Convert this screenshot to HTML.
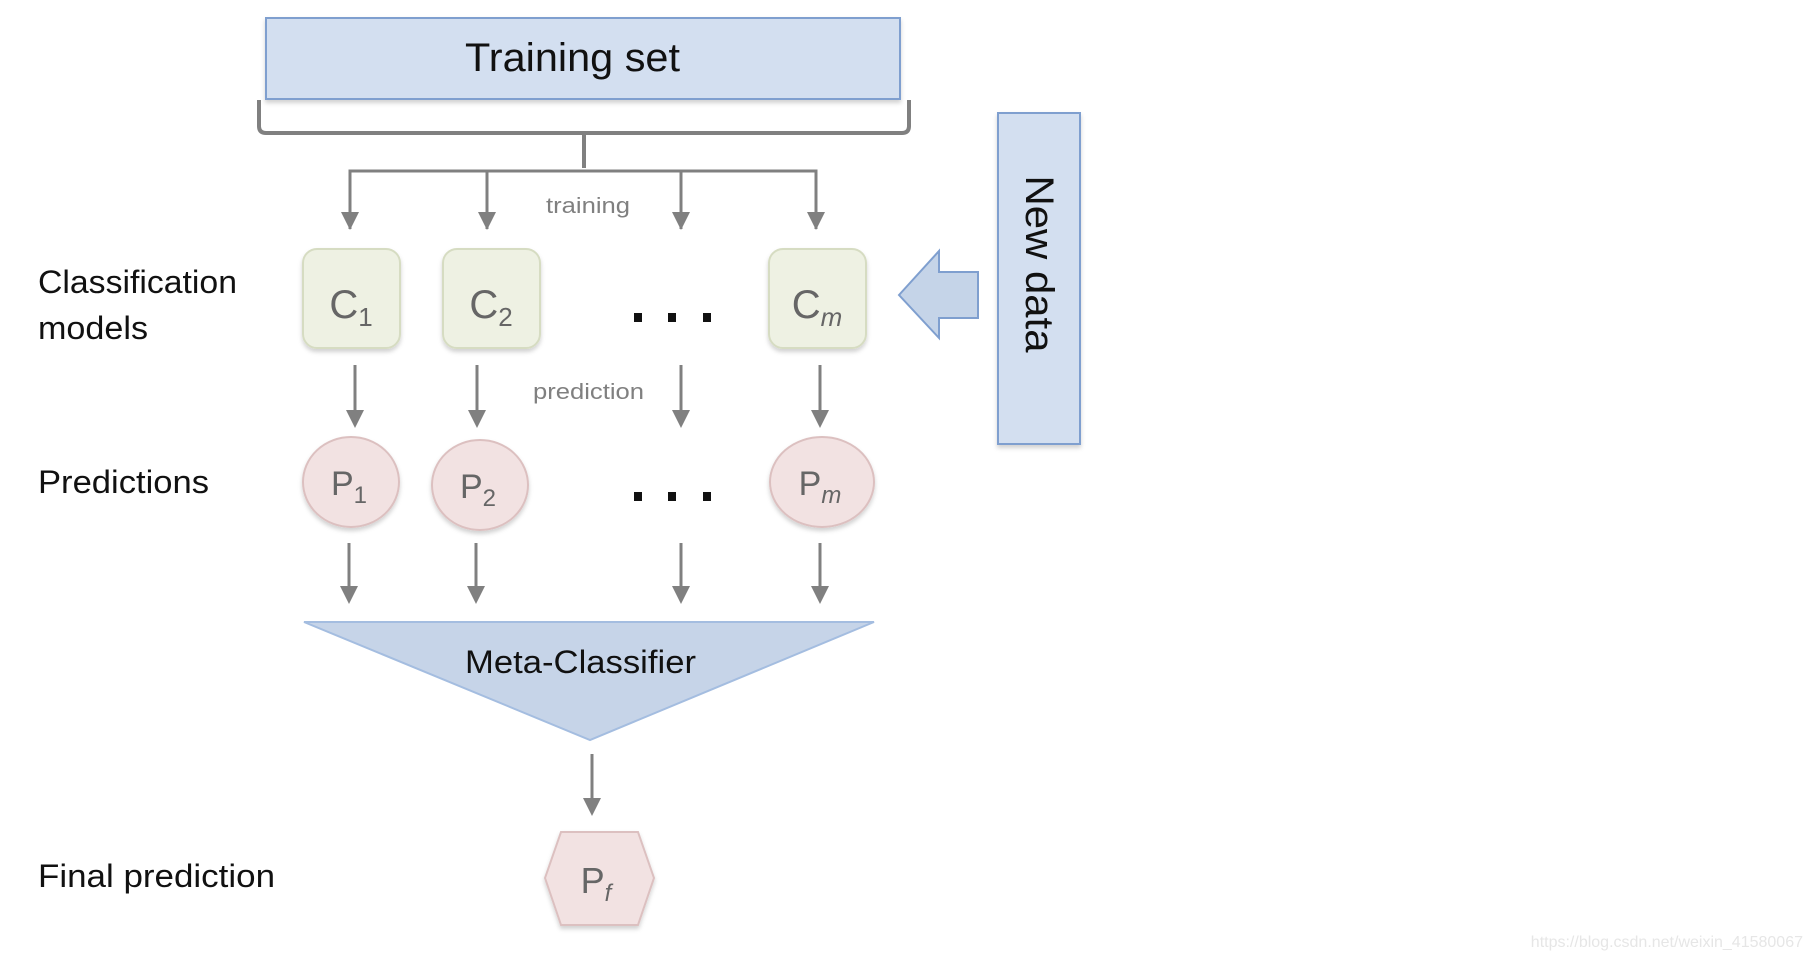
<!DOCTYPE html>
<html><head><meta charset="utf-8"><style>
html,body{margin:0;padding:0;background:#fff;width:1812px;height:960px;overflow:hidden}
svg{display:block}
text{font-family:"Liberation Sans",sans-serif}
</style></head><body>
<svg width="1812" height="960" viewBox="0 0 1812 960" xmlns="http://www.w3.org/2000/svg">
<defs>
<filter id="sh" x="-20%" y="-20%" width="140%" height="140%"><feDropShadow dx="0" dy="3" stdDeviation="2" flood-color="#000" flood-opacity="0.18"/></filter>
</defs>
<!-- Training set -->
<rect x="266" y="18" width="634" height="81" fill="#d3dff0" stroke="#7f9fcf" stroke-width="2" filter="url(#sh)"/>
<text x="465" y="71" font-size="40" textLength="215" lengthAdjust="spacingAndGlyphs" fill="#111">Training set</text>
<!-- brace -->
<path d="M259,100 V126 Q259,133 266,133 H902 Q909,133 909,126 V100 M584,133 V168" fill="none" stroke="#808080" stroke-width="4"/>
<path d="M350,229 V171 H816 V229 M487,171 V229 M681,171 V229" fill="none" stroke="#808080" stroke-width="3"/>
<g fill="#808080">
<path d="M341,212 h18 l-9,18 z"/><path d="M478,212 h18 l-9,18 z"/><path d="M672,212 h18 l-9,18 z"/><path d="M807,212 h18 l-9,18 z"/>
</g>
<text x="546" y="213" font-size="22" textLength="84" lengthAdjust="spacingAndGlyphs" fill="#808080">training</text>
<!-- C boxes -->
<g fill="#eef1e3" stroke="#d6dcc2" stroke-width="2" filter="url(#sh)">
<rect x="303" y="249" width="97" height="99" rx="14"/>
<rect x="443" y="249" width="97" height="99" rx="14"/>
<rect x="769" y="249" width="97" height="99" rx="14"/>
</g>
<g fill="#666" font-size="40" text-anchor="middle">
<text x="351" y="318">C<tspan font-size="26" dy="8">1</tspan></text>
<text x="491" y="318">C<tspan font-size="26" dy="8">2</tspan></text>
<text x="817" y="318">C<tspan font-size="26" dy="8" font-style="italic">m</tspan></text>
</g>
<g fill="#111"><rect x="634" y="313" width="8" height="9"/><rect x="668" y="313" width="8" height="9"/><rect x="703" y="313" width="8" height="9"/>
<rect x="634" y="492" width="8" height="9"/><rect x="668" y="492" width="8" height="9"/><rect x="703" y="492" width="8" height="9"/></g>
<!-- New data arrow -->
<path d="M899,295 L939,251 V272 H978 V318 H939 V338 Z" fill="#c5d4e8" stroke="#7f9fcf" stroke-width="2"/>
<rect x="998" y="113" width="82" height="331" fill="#d3dff0" stroke="#7f9fcf" stroke-width="2" filter="url(#sh)"/>
<text transform="translate(1026,264) rotate(90)" font-size="40" text-anchor="middle" textLength="177" lengthAdjust="spacingAndGlyphs" fill="#111">New data</text>
<!-- labels -->
<g font-size="32" fill="#111">
<text x="38" y="293" textLength="199" lengthAdjust="spacingAndGlyphs">Classification</text>
<text x="38" y="339" textLength="110" lengthAdjust="spacingAndGlyphs">models</text>
<text x="38" y="493" textLength="171" lengthAdjust="spacingAndGlyphs">Predictions</text>
<text x="38" y="887" textLength="237" lengthAdjust="spacingAndGlyphs">Final prediction</text>
</g>
<g stroke="#808080" stroke-width="3">
<line x1="355" y1="365" x2="355" y2="412"/><line x1="477" y1="365" x2="477" y2="412"/><line x1="681" y1="365" x2="681" y2="412"/><line x1="820" y1="365" x2="820" y2="412"/>
<line x1="349" y1="543" x2="349" y2="588"/><line x1="476" y1="543" x2="476" y2="588"/><line x1="681" y1="543" x2="681" y2="588"/><line x1="820" y1="543" x2="820" y2="588"/>
<line x1="592" y1="754" x2="592" y2="800"/>
</g>
<g fill="#808080">
<path d="M346,410 h18 l-9,18 z"/><path d="M468,410 h18 l-9,18 z"/><path d="M672,410 h18 l-9,18 z"/><path d="M811,410 h18 l-9,18 z"/>
<path d="M340,586 h18 l-9,18 z"/><path d="M467,586 h18 l-9,18 z"/><path d="M672,586 h18 l-9,18 z"/><path d="M811,586 h18 l-9,18 z"/>
<path d="M583,798 h18 l-9,18 z"/>
</g>
<text x="533" y="399" font-size="22" textLength="111" lengthAdjust="spacingAndGlyphs" fill="#808080">prediction</text>
<!-- P circles -->
<g fill="#f2e2e2" stroke="#dcc0c0" stroke-width="2" filter="url(#sh)">
<ellipse cx="351" cy="482" rx="48" ry="45"/>
<ellipse cx="480" cy="485" rx="48" ry="45"/>
<ellipse cx="822" cy="482" rx="52" ry="45"/>
</g>
<g fill="#666" font-size="34" text-anchor="middle">
<text x="349" y="495">P<tspan font-size="24" dy="8">1</tspan></text>
<text x="478" y="498">P<tspan font-size="24" dy="8">2</tspan></text>
<text x="820" y="495">P<tspan font-size="24" dy="8" font-style="italic">m</tspan></text>
</g>
<!-- meta classifier -->
<path d="M304,622 H874 L590,740 Z" fill="#c6d4e8" stroke="#a4bde0" stroke-width="2"/>
<text x="465" y="673" font-size="32" textLength="231" lengthAdjust="spacingAndGlyphs" fill="#111">Meta-Classifier</text>
<!-- hexagon -->
<path d="M561,832 H638 L654,878 L638,925 H561 L545,878 Z" fill="#f2e2e2" stroke="#dcc0c0" stroke-width="2" filter="url(#sh)"/>
<text x="596" y="893" font-size="36" text-anchor="middle" fill="#666">P<tspan font-size="24" dy="8" font-style="italic">f</tspan></text>
<text x="1803" y="947" font-size="16" text-anchor="end" fill="#e6e6e6">https://blog.csdn.net/weixin_41580067</text>
</svg>
</body></html>
